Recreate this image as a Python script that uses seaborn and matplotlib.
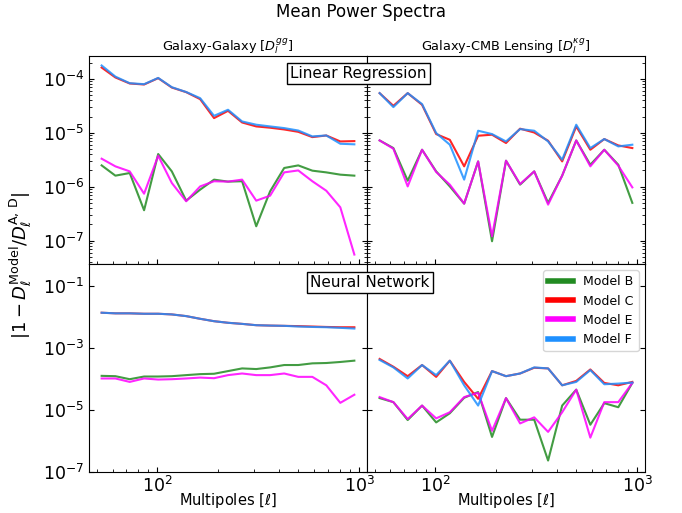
import numpy as np
import pandas as pd
import matplotlib
matplotlib.use("Agg")
import matplotlib.pyplot as plt
import seaborn as sns

# multipole bin centres
ell = [53, 62, 73, 86, 101, 118, 139, 163, 191, 224, 263, 309, 362, 425, 499, 586, 687, 806, 946]

models = ["Model B", "Model C", "Model E", "Model F"]
colors = {"Model B": "forestgreen", "Model C": "red", "Model E": "magenta", "Model F": "dodgerblue"}

# Linear regression, galaxy-galaxy
gg_lr_B = [2.48e-6, 1.6e-6, 1.79e-6, 3.65e-7, 4.03e-6, 1.92e-6, 5.5e-7, 8.8e-7, 1.35e-6, 1.24e-6,
           1.26e-6, 1.84e-7, 8.2e-7, 2.22e-6, 2.48e-6, 1.98e-6, 1.84e-6, 1.67e-6, 1.6e-6]
gg_lr_C = [1.62e-4, 1.06e-4, 8.2e-5, 7.85e-5, 1.03e-4, 6.9e-5, 5.66e-5, 4.2e-5, 1.87e-5, 2.55e-5,
           1.55e-5, 1.31e-5, 1.24e-5, 1.15e-5, 1.04e-5, 8.3e-6, 8.9e-6, 6.9e-6, 7.0e-6]
gg_lr_E = [3.3e-6, 2.38e-6, 1.92e-6, 7.4e-7, 3.75e-6, 1.17e-6, 5.35e-7, 1.01e-6, 1.26e-6, 1.24e-6,
           1.35e-6, 5.5e-7, 6.8e-7, 1.84e-6, 2.0e-6, 1.26e-6, 8.4e-7, 4.14e-7, 5.5e-8]
gg_lr_F = [1.77e-4, 1.10e-4, 8.3e-5, 7.96e-5, 1.04e-4, 7.0e-5, 5.7e-5, 4.38e-5, 2.06e-5, 2.67e-5,
           1.62e-5, 1.41e-5, 1.31e-5, 1.22e-5, 1.10e-5, 8.55e-6, 8.9e-6, 6.25e-6, 6.1e-6]

# Linear regression, galaxy-CMB lensing
kg_lr_B = [7.2e-6, 5.2e-6, 1.29e-6, 4.84e-6, 1.92e-6, 1.01e-6, 4.84e-7, 2.94e-6, 9.7e-8, 3.03e-6,
           1.09e-6, 1.92e-6, 5.0e-7, 1.6e-6, 7.2e-6, 2.55e-6, 4.84e-6, 2.55e-6, 5.0e-7]
kg_lr_C = [5.43e-5, 3.16e-5, 5.43e-5, 3.3e-5, 9.45e-6, 7.4e-6, 2.38e-6, 8.8e-6, 9.2e-6, 6.45e-6,
           1.19e-5, 1.01e-5, 7.1e-6, 2.94e-6, 1.31e-5, 4.84e-6, 7.64e-6, 5.82e-6, 5.2e-6]
kg_lr_E = [7.2e-6, 5.06e-6, 1.01e-6, 4.84e-6, 1.87e-6, 1.09e-6, 4.84e-7, 2.94e-6, 1.2e-7, 3.03e-6,
           1.12e-6, 1.92e-6, 4.64e-7, 1.6e-6, 7.2e-6, 2.38e-6, 4.84e-6, 2.45e-6, 9.7e-7]
kg_lr_F = [5.43e-5, 2.99e-5, 5.43e-5, 3.4e-5, 9.87e-6, 6.0e-6, 1.35e-6, 1.09e-5, 9.45e-6, 6.9e-6,
           1.17e-5, 1.09e-5, 6.9e-6, 3.16e-6, 1.41e-5, 5.2e-6, 7.64e-6, 5.58e-6, 6.0e-6]

# Neural network, galaxy-galaxy
gg_nn_B = [1.25e-4, 1.22e-4, 9.75e-5, 1.19e-4, 1.19e-4, 1.22e-4, 1.32e-4, 1.42e-4, 1.46e-4, 1.78e-4,
           2.17e-4, 2.07e-4, 2.34e-4, 2.79e-4, 2.79e-4, 3.16e-4, 3.24e-4, 3.5e-4, 3.86e-4]
gg_nn_C = [1.35e-2, 1.29e-2, 1.29e-2, 1.25e-2, 1.25e-2, 1.19e-2, 1.05e-2, 8.6e-3, 7.2e-3, 6.4e-3,
           5.9e-3, 5.35e-3, 5.2e-3, 5.1e-3, 5.0e-3, 4.85e-3, 4.7e-3, 4.6e-3, 4.6e-3]
gg_nn_E = [1.03e-4, 1.03e-4, 7.98e-5, 1.03e-4, 9.5e-5, 9.75e-5, 1.03e-4, 1.10e-4, 1.05e-4, 1.32e-4,
           1.49e-4, 1.32e-4, 1.32e-4, 1.49e-4, 1.16e-4, 1.16e-4, 6.2e-5, 1.69e-5, 3.08e-5]
gg_nn_F = [1.35e-2, 1.29e-2, 1.29e-2, 1.25e-2, 1.25e-2, 1.19e-2, 1.05e-2, 8.6e-3, 7.2e-3, 6.4e-3,
           5.9e-3, 5.35e-3, 5.2e-3, 5.1e-3, 4.85e-3, 4.7e-3, 4.6e-3, 4.4e-3, 4.17e-3]

# Neural network, galaxy-CMB lensing
kg_nn_B = [2.4e-5, 1.78e-5, 4.72e-6, 1.38e-5, 3.96e-6, 7.8e-6, 2.46e-5, 3.77e-5, 1.35e-6, 2.4e-5,
           4.84e-6, 4.84e-6, 2.34e-7, 1.38e-5, 4.49e-5, 3.33e-6, 1.65e-5, 1.22e-5, 7.4e-5]
kg_nn_C = [4.38e-4, 2.46e-4, 1.22e-4, 2.79e-4, 1.16e-4, 3.86e-4, 7.98e-5, 2.28e-5, 1.78e-4, 1.22e-4,
           1.49e-4, 2.28e-4, 2.17e-4, 6.2e-5, 8.6e-5, 2.01e-4, 7.4e-5, 6.2e-5, 7.98e-5]
kg_nn_E = [2.59e-5, 1.78e-5, 5.09e-6, 1.38e-5, 5.35e-6, 8.4e-6, 2.59e-5, 3.58e-5, 2.12e-6, 2.4e-5,
           3.67e-6, 5.77e-6, 1.96e-6, 8.4e-6, 4.49e-5, 1.28e-6, 1.78e-5, 1.78e-5, 7.4e-5]
kg_nn_F = [4.06e-4, 2.34e-4, 1.03e-4, 2.79e-4, 1.32e-4, 3.86e-4, 6.2e-5, 1.38e-5, 1.78e-4, 1.22e-4,
           1.49e-4, 2.34e-4, 2.17e-4, 6.2e-5, 7.98e-5, 1.92e-4, 6.7e-5, 7.05e-5, 7.6e-5]


def to_frame(b, c, e, f):
    rows = []
    for name, vals in zip(models, [b, c, e, f]):
        for l, v in zip(ell, vals):
            rows.append({"ell": l, "value": v, "model": name})
    return pd.DataFrame(rows)


panels = [
    [to_frame(gg_lr_B, gg_lr_C, gg_lr_E, gg_lr_F), to_frame(kg_lr_B, kg_lr_C, kg_lr_E, kg_lr_F)],
    [to_frame(gg_nn_B, gg_nn_C, gg_nn_E, gg_nn_F), to_frame(kg_nn_B, kg_nn_C, kg_nn_E, kg_nn_F)],
]

fig, axes = plt.subplots(2, 2, figsize=(6.82, 5.13), dpi=100, sharex=True, sharey="row")
fig.subplots_adjust(left=0.1305, right=0.9457, top=0.8908, bottom=0.0799, hspace=0, wspace=0)

for i in range(2):
    for j in range(2):
        ax = axes[i, j]
        sns.lineplot(data=panels[i][j], x="ell", y="value", hue="model", palette=colors,
                     ax=ax, linewidth=1.5, alpha=0.85, legend=(i == 1 and j == 1))
        ax.set_xscale("log")
        ax.set_yscale("log")
        ax.set_xlabel("")
        ax.set_ylabel("")
        ax.tick_params(which="both", direction="in", right=True, labelsize=12.5)
        ax.tick_params(axis="x", pad=3)

axes[1, 0].set_ylim(1e-7, 0.5)
axes[1, 0].set_yticks([1e-7, 1e-5, 1e-3, 1e-1])

axes[0, 0].set_title(r"Galaxy-Galaxy [$D_l^{gg}$]", fontsize=9.3, pad=3)
axes[0, 1].set_title(r"Galaxy-CMB Lensing [$D_l^{\kappa g}$]", fontsize=9.3, pad=3)
axes[1, 0].set_xlabel(r"Multipoles [$\ell$]", fontsize=10.5, labelpad=-4)
axes[1, 1].set_xlabel(r"Multipoles [$\ell$]", fontsize=10.5, labelpad=-4)

leg = axes[1, 1].legend(loc="upper right", fontsize=9, title=None)
for line in leg.get_lines():
    line.set_linewidth(4)
    line.set_alpha(1)

box = dict(boxstyle="square,pad=0.2", facecolor="white", edgecolor="black")
fig.text(0.526, 0.856, "Linear Regression", ha="center", va="center", fontsize=11, bbox=box)
fig.text(0.5425, 0.450, "Neural Network", ha="center", va="center", fontsize=11, bbox=box)

fig.suptitle("Mean Power Spectra", x=0.53, y=0.977, fontsize=12, va="center")
fig.text(0.03, 0.483, r"$|1 - D_\ell^{\rm Model}/D_\ell^{\rm A,\,D}|$", rotation=90,
         ha="center", va="center", fontsize=13)

plt.savefig("out.png", dpi=100)
